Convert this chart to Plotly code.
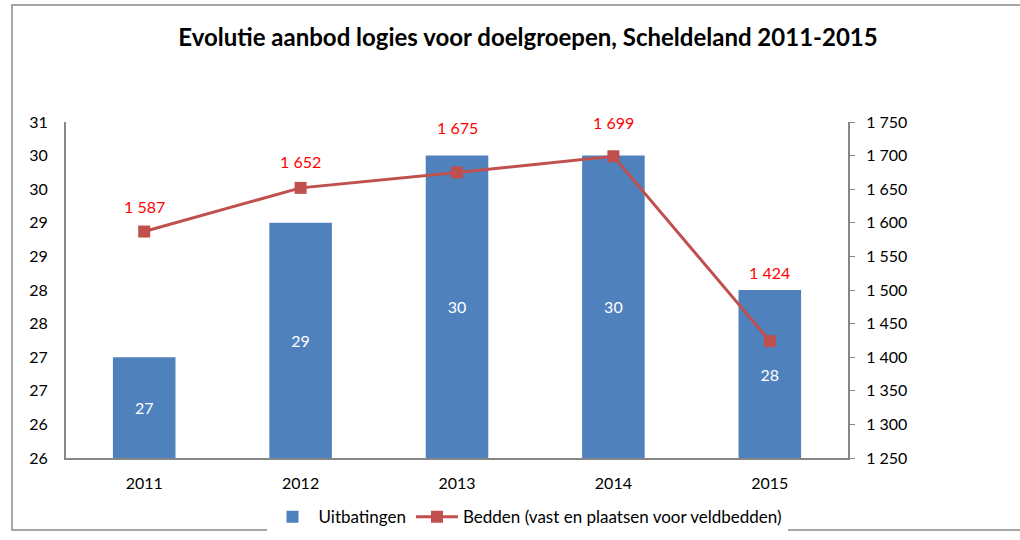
import plotly.graph_objects as go

years = ["2011", "2012", "2013", "2014", "2015"]
uitbatingen = [27, 29, 30, 30, 28]
bedden = [1587, 1652, 1675, 1699, 1424]
bedden_labels = ["1 587", "1 652", "1 675", "1 699", "1 424"]
left_tickvals = [25.5, 26, 26.5, 27, 27.5, 28, 28.5, 29, 29.5, 30, 30.5]
left_ticktext = ["26", "26", "27", "27", "28", "28", "29", "29", "30", "30", "31"]
right_tickvals = [1250, 1300, 1350, 1400, 1450, 1500, 1550, 1600, 1650, 1700, 1750]
right_ticktext = ["1 250", "1 300", "1 350", "1 400", "1 450", "1 500", "1 550", "1 600", "1 650", "1 700", "1 750"]
label_shifts = [25, 26, 45, 34, 69]

FONT = "Lato"
BLUE = "#4F81BD"
RED = "#C0504D"
AXIS_MIN = left_tickvals[0]
AXIS_MAX = left_tickvals[-1]

fig = go.Figure()
fig.add_trace(go.Bar(
    x=years, y=[v - AXIS_MIN for v in uitbatingen], base=AXIS_MIN, name="Uitbatingen",
    marker=dict(color=BLUE, line=dict(width=0)),
    width=0.4,
    text=[str(v) for v in uitbatingen], textposition="inside",
    insidetextanchor="middle",
    textfont=dict(color="white", size=16, family=FONT),
    yaxis="y",
))
fig.add_trace(go.Scatter(
    x=years, y=bedden, name="Bedden (vast en plaatsen voor veldbedden)",
    mode="lines+markers",
    line=dict(color=RED, width=3),
    marker=dict(symbol="square", size=12, color=RED),
    yaxis="y2",
))

# category axis: annotations addressed by category index
for i, (yv, lab, sh) in enumerate(zip(bedden, bedden_labels, label_shifts)):
    fig.add_annotation(x=i, y=yv, xref="x", yref="y2", text=lab, showarrow=False,
                       yshift=sh, font=dict(color="#FF0000", size=16, family=FONT))

fig.add_shape(type="rect", xref="paper", yref="paper",
              x0=-0.069, x1=1.23, y0=-0.214, y1=1.348,
              line=dict(color="#A6A6A6", width=2), fillcolor="rgba(0,0,0,0)", layer="below")

fig.update_layout(
    width=1020, height=540,
    margin=dict(l=66, r=172, t=122, b=82, autoexpand=False),
    paper_bgcolor="white", plot_bgcolor="white",
    font=dict(family=FONT, size=16, color="black"),
    title=dict(text="<b>Evolutie aanbod logies voor doelgroepen, Scheldeland 2011-2015</b>",
               x=528 / 1020, xanchor="center", y=1 - 38 / 540, yanchor="middle",
               font=dict(size=24, family=FONT, color="black"), automargin=False),
    showlegend=True,
    legend=dict(orientation="h", x=(527 - 66) / 782, xanchor="center",
                y=-0.176, yanchor="middle", font=dict(size=17, family=FONT),
                traceorder="normal", itemwidth=42),
    xaxis=dict(type="category", range=[-0.5, 4.5], showline=True, linecolor="#868686",
               linewidth=2, ticks="outside", ticklen=10, tickcolor="rgba(0,0,0,0)",
               showgrid=False, tickfont=dict(size=16), automargin=False),
    yaxis=dict(range=[AXIS_MIN, AXIS_MAX], tickvals=left_tickvals, ticktext=left_ticktext,
               showline=True, linecolor="#868686", linewidth=2, showgrid=False,
               ticks="outside", ticklen=13, tickcolor="rgba(0,0,0,0)", zeroline=False,
               tickfont=dict(size=16), automargin=False),
    yaxis2=dict(range=[1250, 1750], tickvals=right_tickvals, ticktext=right_ticktext,
                overlaying="y", side="right", showline=True, linecolor="#868686",
                linewidth=2, showgrid=False, ticks="outside", ticklen=5,
                tickcolor="#868686", zeroline=False, tickfont=dict(size=16),
                ticklabelstandoff=8, automargin=False),
    bargap=0.6,
)

fig.write_html("out.html", config={"displayModeBar": False},
               post_script="document.body.style.margin='0';")
